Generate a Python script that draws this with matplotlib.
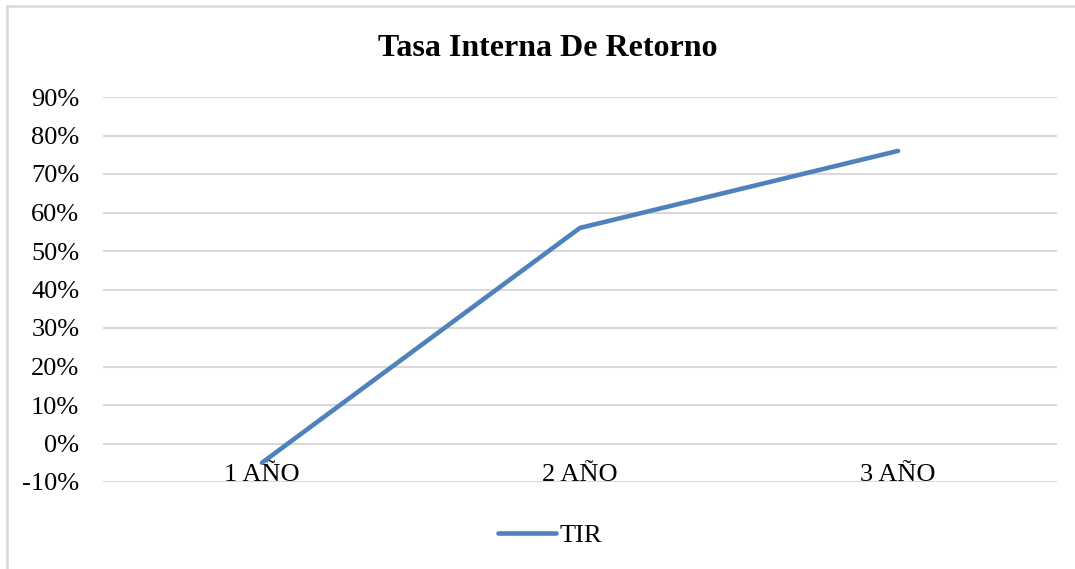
import matplotlib.pyplot as plt
from matplotlib.lines import Line2D
from matplotlib.ticker import FuncFormatter

# datos de la TIR por año
categorias = ['1 AÑO', '2 AÑO', '3 AÑO']
tir = [-0.05, 0.56, 0.76]
ticks_y = [-0.1, 0.0, 0.1, 0.2, 0.3, 0.4, 0.5, 0.6, 0.7, 0.8, 0.9]

plt.rcParams['font.family'] = ['Liberation Serif', 'DejaVu Serif']

fig = plt.figure(figsize=(10.75, 5.69), dpi=100)
ax = fig.add_axes([103 / 1075, 87 / 569, 954 / 1075, 385 / 569])

x = list(range(len(categorias)))
ax.plot(x, tir, color='#4f81bd', lw=3.3, solid_capstyle='round',
        solid_joinstyle='round', label='TIR', zorder=3)

ax.set_xlim(-0.5, len(categorias) - 0.5)
ax.set_ylim(-0.1, 0.9)
ax.set_yticks(ticks_y)
ax.yaxis.set_major_formatter(FuncFormatter(lambda v, p: '{:.0f}%'.format(v * 100)))
ax.grid(axis='y', color='#d9d9d9', lw=1.5, zorder=0)

# eje de categorías cruzando en 0%
ax.spines['bottom'].set_position(('data', 0))
for s in ['top', 'right', 'left', 'bottom']:
    ax.spines[s].set_visible(False)
ax.set_xticks(x)
ax.set_xticklabels(categorias)
ax.tick_params(axis='x', length=0, pad=15, labelsize=19)
ax.tick_params(axis='y', length=0, pad=17, labelsize=19)

fig.text(548 / 1075, 1 - 48 / 569, 'Tasa Interna De Retorno', ha='center',
         va='center', fontsize=23, fontweight='bold')

ax.legend(loc='center', bbox_to_anchor=(550 / 1075, 1 - 535 / 569),
          bbox_transform=fig.transFigure, frameon=False, fontsize=19,
          handlelength=2.2, handletextpad=0.1)

# borde del área del gráfico
fig.add_artist(Line2D([7 / 1075, 1.0], [1 - 6 / 569, 1 - 6 / 569],
                      transform=fig.transFigure, color='#d9d9d9', lw=1.8))
fig.add_artist(Line2D([7 / 1075, 7 / 1075], [0, 1 - 6 / 569],
                      transform=fig.transFigure, color='#d9d9d9', lw=1.8))

fig.savefig('out.png', dpi=100)
